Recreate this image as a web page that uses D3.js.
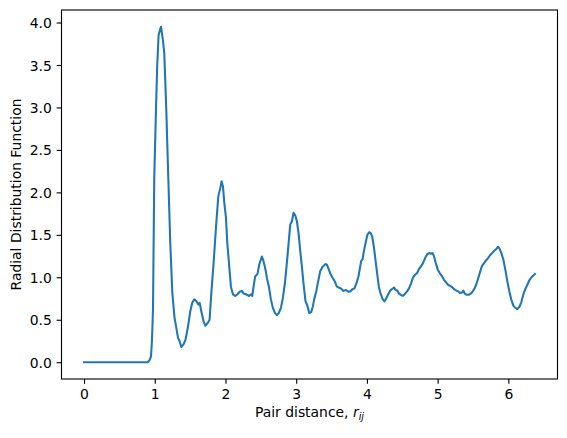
<!DOCTYPE html>
<html>
<head>
<meta charset="utf-8">
<script src="https://cdn.jsdelivr.net/npm/d3@7"></script>
<style>
  body { margin: 0; background: #fff; }
  text { font-family: "DejaVu Sans", sans-serif; fill: #000; }
</style>
</head>
<body>
<script>
// pair distance (x) and g(r) values
const rValues = [0, 0.90, 0.913, 0.93, 0.947, 0.96, 0.975, 0.993, 1.017, 1.035, 1.054, 1.07, 1.088, 1.116, 1.135, 1.163, 1.191, 1.219, 1.248, 1.28,
  1.304, 1.328, 1.351, 1.375, 1.407, 1.436, 1.47, 1.502, 1.53, 1.559, 1.587, 1.615, 1.634, 1.658, 1.69, 1.718, 1.747, 1.775, 1.80, 1.832,
  1.87, 1.898, 1.926, 1.945, 1.964, 1.983, 2.006, 2.025, 2.049, 2.077, 2.105, 2.138, 2.17, 2.2, 2.23, 2.255, 2.29, 2.335, 2.36, 2.378,
  2.397, 2.42, 2.453, 2.477, 2.515, 2.538, 2.566, 2.586, 2.614, 2.642, 2.67, 2.699, 2.727, 2.755, 2.784, 2.812, 2.84, 2.868, 2.897, 2.915,
  2.939, 2.962, 2.986, 3.01, 3.033, 3.056, 3.08, 3.103, 3.131, 3.16, 3.184, 3.212, 3.236, 3.254, 3.282, 3.31, 3.339, 3.371, 3.41, 3.434,
  3.462, 3.49, 3.518, 3.547, 3.575, 3.603, 3.636, 3.668, 3.702, 3.739, 3.767, 3.795, 3.824, 3.852, 3.88, 3.918, 3.937, 3.96, 3.985, 4.007,
  4.031, 4.055, 4.074, 4.098, 4.12, 4.144, 4.168, 4.191, 4.22, 4.248, 4.276, 4.304, 4.332, 4.36, 4.385, 4.4, 4.427, 4.455, 4.484, 4.512,
  4.54, 4.568, 4.597, 4.625, 4.653, 4.681, 4.71, 4.738, 4.766, 4.794, 4.823, 4.851, 4.879, 4.907, 4.926, 4.946, 4.974, 5.002, 5.03, 5.063,
  5.09, 5.12, 5.148, 5.176, 5.204, 5.232, 5.26, 5.289, 5.317, 5.345, 5.364, 5.383, 5.412, 5.44, 5.468, 5.497, 5.525, 5.553, 5.581, 5.61,
  5.628, 5.656, 5.684, 5.713, 5.741, 5.769, 5.797, 5.826, 5.854, 5.873, 5.901, 5.929, 5.957, 5.986, 6.014, 6.042, 6.07, 6.099, 6.127, 6.155,
  6.183, 6.211, 6.24, 6.268, 6.296, 6.325, 6.353, 6.376];
const gValues = [0, 0, 0.01, 0.03, 0.07, 0.25, 0.62, 2.18, 2.97, 3.5, 3.85, 3.9, 3.95, 3.79, 3.63, 2.97, 2.18, 1.41, 0.82, 0.52,
  0.41, 0.29, 0.25, 0.18, 0.21, 0.27, 0.42, 0.60, 0.70, 0.74, 0.72, 0.68, 0.70, 0.60, 0.48, 0.43, 0.46, 0.50, 0.82, 1.17,
  1.64, 1.95, 2.05, 2.13, 2.07, 1.88, 1.71, 1.41, 1.17, 0.89, 0.80, 0.78, 0.80, 0.83, 0.84, 0.81, 0.80, 0.78, 0.80, 0.78,
  0.89, 1.01, 1.04, 1.15, 1.245, 1.19, 1.09, 0.99, 0.89, 0.74, 0.64, 0.58, 0.556, 0.58, 0.64, 0.76, 0.93, 1.17, 1.44, 1.62,
  1.66, 1.76, 1.73, 1.66, 1.52, 1.32, 1.13, 0.93, 0.72, 0.66, 0.58, 0.59, 0.66, 0.74, 0.83, 0.95, 1.07, 1.12, 1.155, 1.15,
  1.09, 1.03, 0.99, 0.95, 0.89, 0.88, 0.865, 0.84, 0.85, 0.83, 0.835, 0.86, 0.87, 0.93, 1.01, 1.19, 1.21, 1.32, 1.42, 1.50,
  1.53, 1.52, 1.48, 1.36, 1.21, 1.05, 0.89, 0.815, 0.745, 0.716, 0.756, 0.807, 0.846, 0.865, 0.88, 0.854, 0.846, 0.807, 0.79, 0.783,
  0.807, 0.834, 0.873, 0.932, 1.00, 1.03, 1.05, 1.10, 1.13, 1.17, 1.226, 1.27, 1.285, 1.277, 1.285, 1.253, 1.167, 1.09, 1.05, 1.01,
  0.97, 0.94, 0.91, 0.90, 0.885, 0.86, 0.846, 0.834, 0.815, 0.82, 0.842, 0.807, 0.795, 0.795, 0.807, 0.834, 0.873, 0.932, 1.01, 1.09,
  1.135, 1.167, 1.198, 1.226, 1.26, 1.285, 1.31, 1.33, 1.36, 1.34, 1.285, 1.21, 1.09, 0.95, 0.834, 0.736, 0.666, 0.64, 0.627, 0.65,
  0.705, 0.795, 0.862, 0.912, 0.963, 0.998, 1.02, 1.04];
const xTicks = [0, 1, 2, 3, 4, 5, 6];
const yTicks = [0.0, 0.5, 1.0, 1.5, 2.0, 2.5, 3.0, 3.5, 4.0];

const width = 567;
const height = 438;
const margin = {top: 10, right: 9.5, bottom: 59, left: 61.5};
const fontSize = 13.9;

const svg = d3.select("body").append("svg").attr("width", width).attr("height", height);

const points = rValues.map((r, i) => ({r: r, g: gValues[i]}));

// matplotlib style 5% padding around the data
const xExt = d3.extent(rValues);
const yExt = d3.extent(gValues);
const xPad = (xExt[1] - xExt[0]) * 0.05;
const yPad = (yExt[1] - yExt[0]) * 0.05;

const xScale = d3.scaleLinear().domain([xExt[0] - xPad, xExt[1] + xPad]).range([margin.left, width - margin.right]);
const yScale = d3.scaleLinear().domain([yExt[0] - yPad, yExt[1] + yPad]).range([height - margin.bottom, margin.top]);

// the curve
const line = d3.line().x(d => xScale(d.r)).y(d => yScale(d.g));
svg.append("path")
  .datum(points)
  .attr("d", line)
  .attr("fill", "none")
  .attr("stroke", "#1f77b4")
  .attr("stroke-width", 2.08)
  .attr("stroke-linejoin", "round")
  .attr("stroke-linecap", "square");

// axes
const xAxis = d3.axisBottom(xScale).tickValues(xTicks).tickFormat(d3.format("d")).tickSize(4.86).tickPadding(4.86);
const yAxis = d3.axisLeft(yScale).tickValues(yTicks).tickFormat(d3.format(".1f")).tickSize(4.86).tickPadding(4.86);

const gx = svg.append("g")
  .attr("transform", "translate(0," + (height - margin.bottom) + ")")
  .call(xAxis);
const gy = svg.append("g")
  .attr("transform", "translate(" + margin.left + ",0)")
  .call(yAxis);

[gx, gy].forEach(g => {
  g.select(".domain").remove();
  g.selectAll(".tick line").attr("stroke", "#000").attr("stroke-width", 1.11);
  g.selectAll(".tick text").attr("font-family", "DejaVu Sans").attr("font-size", fontSize).attr("fill", "#000");
});
gx.selectAll(".tick text").attr("dy", "0.76em");
gy.selectAll(".tick text").attr("dy", "0.36em");

// frame
svg.append("rect")
  .attr("x", margin.left)
  .attr("y", margin.top)
  .attr("width", width - margin.left - margin.right)
  .attr("height", height - margin.top - margin.bottom)
  .attr("fill", "none")
  .attr("stroke", "#000")
  .attr("stroke-width", 1.11);

// x label
const xLabel = svg.append("text")
  .attr("x", (margin.left + width - margin.right) / 2)
  .attr("y", 416.5)
  .attr("text-anchor", "middle")
  .attr("font-size", fontSize);
xLabel.append("tspan").text("Pair distance, ");
xLabel.append("tspan").attr("font-style", "italic").text("r");
xLabel.append("tspan").attr("font-style", "italic").attr("font-size", fontSize * 0.7).attr("dy", 3).text("ij");

// y label
svg.append("text")
  .attr("transform", "translate(20.5," + ((margin.top + height - margin.bottom) / 2) + ") rotate(-90)")
  .attr("text-anchor", "middle")
  .attr("font-size", fontSize)
  .text("Radial Distribution Function");
</script>
</body>
</html>
